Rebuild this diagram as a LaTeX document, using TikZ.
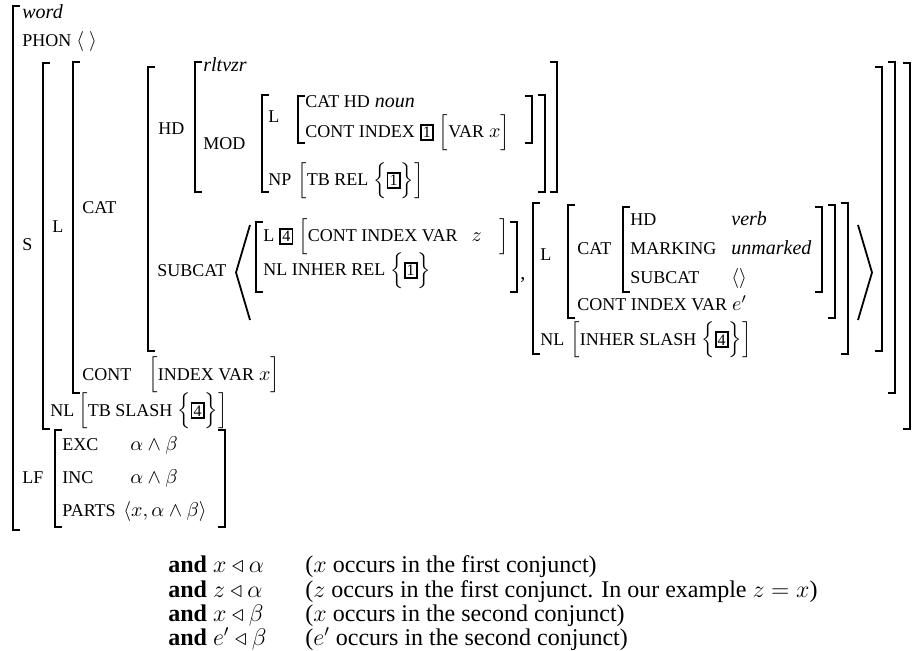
\documentclass[tikz,border=0pt]{standalone}
\usepackage{amsmath}
\usepackage{amssymb}
\usepackage{fontspec}
\setmainfont{Liberation Serif}
\usetikzlibrary{positioning}
% attribute names and structure sharing tags
\newcommand{\av}[1]{{\fontsize{9}{10.5}\selectfont #1}}
\newcommand{\tagno}[1]{{\setlength{\fboxrule}{0.9pt}\setlength{\fboxsep}{0.6pt}\fbox{\fontsize{8}{9.6}\selectfont #1}}}
\tikzset{lab/.style={anchor=base west,inner sep=0pt,font=\fontsize{10}{12}\selectfont},
  cond/.style={lab,font=\fontsize{12}{14.5}\selectfont},
  br/.style={line width=0.9pt}}

\begin{document}
\begin{tikzpicture}[x=0.5pt,y=-0.5pt]
\useasboundingbox (0,0) rectangle (913,651);
% left and right brackets
\foreach \x/\t/\b in {13/6/530,43/63/429,73/62/393,148/67/351,195/62/192,262/95/192,298/96/143,256/222/292,533/203/354,568/205/318,623/207/292,55/430/527}
  \draw[br] (\x+7,\t) -- (\x,\t) -- (\x,\b) -- (\x+7,\b);
\foreach \x/\t/\b in {910/63/429,895/62/393,882/67/351,557/62/192,545/95/192,532/96/143,517/222/292,848/203/354,835/205/318,822/207/292,225/430/527}
  \draw[br] (\x-7,\t) -- (\x,\t) -- (\x,\b) -- (\x-7,\b);
% subcat list
\draw[br] (250,225) -- (236,272.5) -- (250,320);
\draw[br] (858,225) -- (872,272.5) -- (858,320);
% top level
\node[lab] (word) at (22,19) {\textit{word}};
\node[lab] (phon) at (22,47) {\av{PHON} $\langle\ \rangle$};
\node[lab] (s) at (22,251) {\av{S}};
\node[lab] (l) at (52,233) {\av{L}};
\node[lab] (cat) at (82,214) {\av{CAT}};
% head
\node[lab] (hd) at (158,135) {\av{HD}};
\node[lab] (rlt) at (203,72) {\textit{rltvzr}};
\node[lab] (mod) at (203,150) {\av{MOD}};
\node[lab] (modl) at (268,123) {\av{L}};
\node[lab] (noun) at (305,108) {\av{CAT HD} \textit{noun}};
\node[lab] (cidx) at (305,138) {\av{CONT INDEX} \tagno{1} $\Bigl[$\av{VAR} $x\Bigr]$};
\node[lab] (np) at (268,186) {\av{NP}};
\node[lab] (tbrel) at (297,186) {$\Bigl[$\av{TB REL} $\Bigl\{$\tagno{1}$\Bigr\}\Bigr]$};
% subcat
\node[lab] (subcat) at (157,277) {\av{SUBCAT}};
\node[lab] (el) at (263,242) {\av{L} \tagno{4} $\Bigl[$\av{CONT INDEX VAR}\hspace{7pt}$z$\hspace{9pt}$\Bigr]$};
\node[lab] (enl) at (263,276) {\av{NL INHER REL} $\Bigl\{$\tagno{1}$\Bigr\}$};
\node[lab] (comma) at (520,280) {,};
\node[lab] (fl) at (540,261) {\av{L}};
\node[lab] (fcat) at (577,255) {\av{CAT}};
\node[lab] (fhd) at (630,226) {\av{HD}};
\node[lab] (fverb) at (731,226) {\textit{verb}};
\node[lab] (fmark) at (630,255) {\av{MARKING}};
\node[lab] (funm) at (731,255) {\textit{unmarked}};
\node[lab] (fsub) at (630,284) {\av{SUBCAT}};
\node[lab] (fnil) at (731,284) {$\langle\rangle$};
\node[lab] (fcont) at (577,311) {\av{CONT INDEX VAR} $e'$};
\node[lab] (fnl) at (540,345) {\av{NL}};
\node[lab] (fsl) at (570,345) {$\Bigl[$\av{INHER SLASH} $\Bigl\{$\tagno{4}$\Bigr\}\Bigr]$};
% content and nonlocal
\node[lab] (cont) at (82,380) {\av{CONT}};
\node[lab] (idx) at (148,380) {$\Bigl[$\av{INDEX VAR} $x\Bigr]$};
\node[lab] (nl) at (50,416) {\av{NL}};
\node[lab] (tbsl) at (78,416) {$\Bigl[$\av{TB SLASH} $\Bigl\{$\tagno{4}$\Bigr\}\Bigr]$};
% logical form
\node[lab] (lf) at (22,483) {\av{LF}};
\node[lab] (exc) at (62,450) {\av{EXC}};
\node[lab] (excv) at (130,450) {$\alpha\wedge\beta$};
\node[lab] (inc) at (62,483) {\av{INC}};
\node[lab] (incv) at (130,483) {$\alpha\wedge\beta$};
\node[lab] (parts) at (62,516) {\av{PARTS}};
\node[lab] (partsv) at (123,516) {$\langle x,\alpha\wedge\beta\rangle$};
% conditions
\node[cond] (and1) at (168,572) {\textbf{and} $x\triangleleft\alpha$};
\node[cond] (why1) at (305,572) {($x$ occurs in the first conjunct)};
\node[cond] (and2) at (168,597) {\textbf{and} $z\triangleleft\alpha$};
\node[cond] (why2) at (305,597) {($z$ occurs in the first conjunct. In our example $z=x$)};
\node[cond] (and3) at (168,621) {\textbf{and} $x\triangleleft\beta$};
\node[cond] (why3) at (305,621) {($x$ occurs in the second conjunct)};
\node[cond] (and4) at (168,645) {\textbf{and} $e'\triangleleft\beta$};
\node[cond] (why4) at (305,645) {($e'$ occurs in the second conjunct)};
\end{tikzpicture}
\end{document}
